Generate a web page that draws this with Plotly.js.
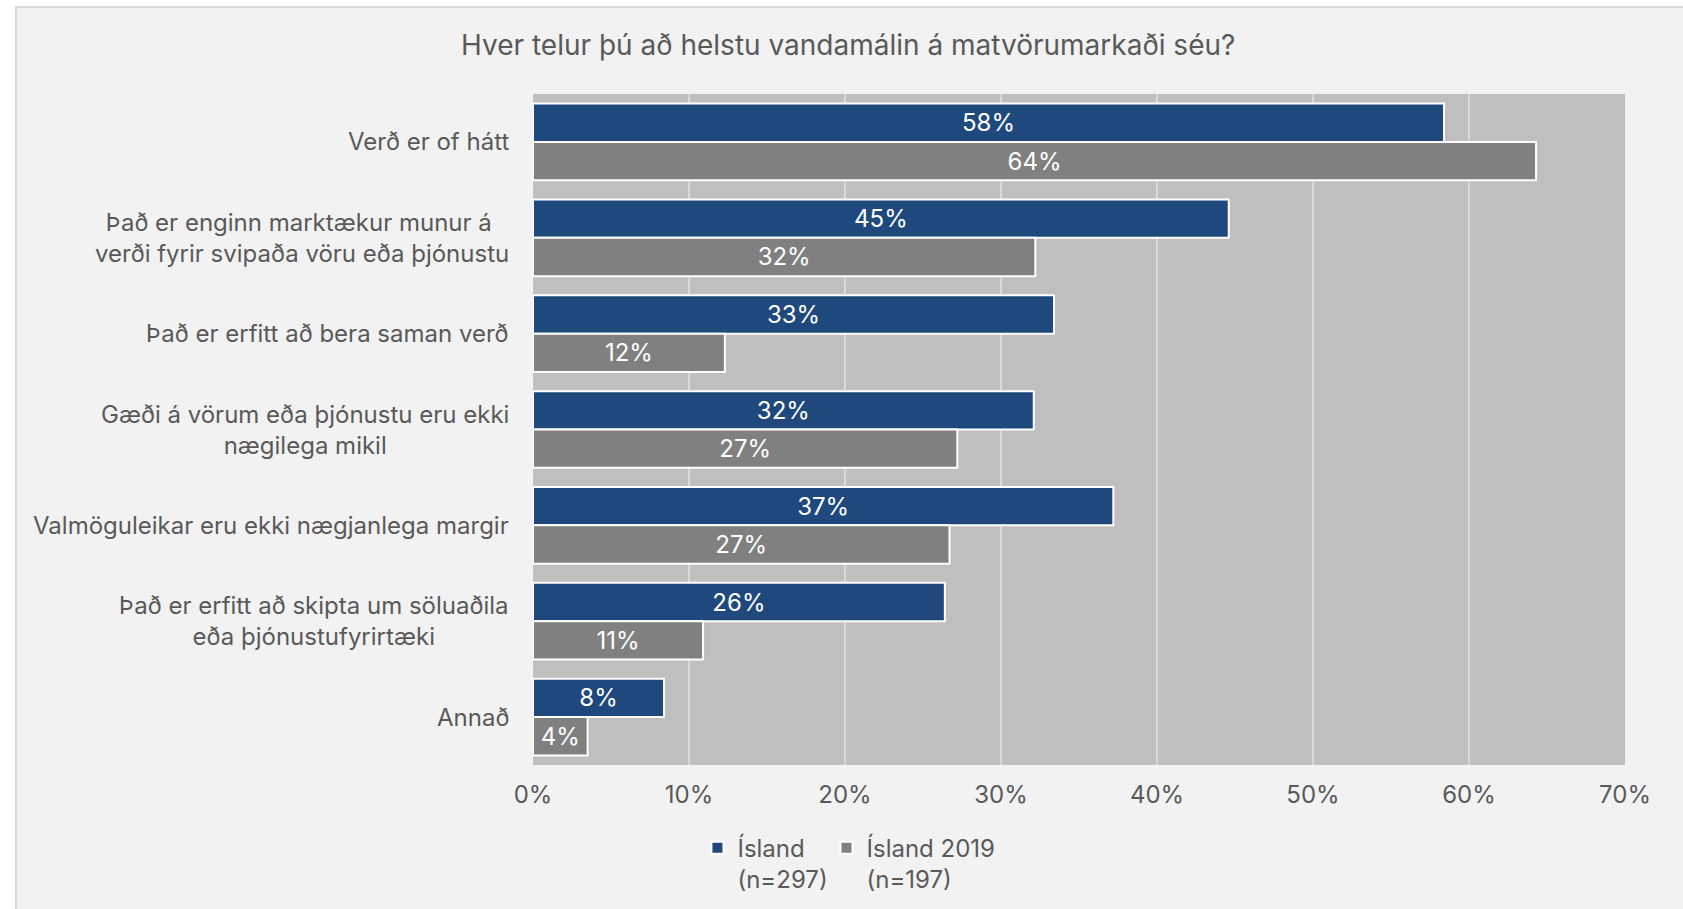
<!DOCTYPE html>
<html><head><meta charset="utf-8">
<script src="https://cdn.plot.ly/plotly-3.0.1.min.js"></script>
<style>
html,body{margin:0;padding:0;background:#fff;width:1683px;height:909px;overflow:hidden;}
#card{position:absolute;left:15px;top:6px;width:1720px;height:940px;background:#f2f2f2;border:2px solid #d9d9d9;box-sizing:border-box;}
#chart{position:absolute;left:0;top:0;width:1683px;height:909px;}
</style></head><body>
<div id="card"></div><div id="chart"></div>
<script>
const categories = [
  "Verð er of hátt",
  "Það er enginn marktækur munur á verði fyrir svipaða vöru eða þjónustu",
  "Það er erfitt að bera saman verð",
  "Gæði á vörum eða þjónustu eru ekki nægilega mikil",
  "Valmöguleikar eru ekki nægjanlega margir",
  "Það er erfitt að skipta um söluaðila eða þjónustufyrirtæki",
  "Annað"
];
const categoryLabels = [
  "Verð er of hátt",
  "Það er enginn marktækur munur á <br>verði fyrir svipaða vöru eða þjónustu",
  "Það er erfitt að bera saman verð",
  "Gæði á vörum eða þjónustu eru ekki<br>nægilega mikil",
  "Valmöguleikar eru ekki nægjanlega margir",
  "Það er erfitt að skipta um söluaðila<br>eða þjónustufyrirtæki",
  "Annað"
];
const island = [58.4, 44.6, 33.4, 32.1, 37.2, 26.4, 8.4];
const island2019 = [64.3, 32.2, 12.3, 27.2, 26.7, 10.9, 3.5];
const seriesNames = ["Ísland<br>(n=297)", "Ísland 2019<br>(n=197)"];
const seriesColors = ["#1f497d", "#808080"];
const xTickVals = [0, 10, 20, 30, 40, 50, 60, 70];
const xTickText = ["0%", "10%", "20%", "30%", "40%", "50%", "60%", "70%"];
const chartTitle = "Hver telur þú að helstu vandamálin á matvörumarkaði séu?";

const FONT = "Inter, 'Noto Sans', sans-serif";
const TXT = "#595959";
const legendIds = ["legend", "legend2"];

function barTrace(vals, i) {
  return {
    type: "bar", orientation: "h",
    x: vals, y: categories,
    name: seriesNames[i],
    legend: legendIds[i],
    marker: {color: seriesColors[i], line: {color: "#ffffff", width: 2}},
    texttemplate: "%{x:.0f}%",
    textposition: "inside",
    insidetextanchor: "middle",
    textangle: 0,
    textfont: {color: "#ffffff", size: 24, family: FONT},
    hoverinfo: "x+y+name"
  };
}

const data = [barTrace(island, 0), barTrace(island2019, 1)];

const annotations = categories.map((c, i) => ({
  xref: "paper", yref: "y", x: 0, y: c,
  xanchor: "right", yanchor: "middle", xshift: -22,
  text: categoryLabels[i], align: "center", showarrow: false,
  font: {size: 24, color: TXT, family: FONT}
}));

function legendAt(x) {
  return {orientation: "h", xref: "container", yref: "container",
          x: x, xanchor: "left", y: 0.05, yanchor: "middle",
          valign: "top", traceorder: "normal",
          font: {size: 24, color: TXT, family: FONT}, bgcolor: "rgba(0,0,0,0)"};
}

const layout = {
  width: 1683, height: 909,
  paper_bgcolor: "rgba(0,0,0,0)",
  plot_bgcolor: "#bfbfbf",
  margin: {l: 533, r: 58, t: 94, b: 144},
  title: {text: chartTitle, x: 0.504, xanchor: "center", y: 0.95, yanchor: "middle",
          font: {size: 28, color: TXT, family: FONT}},
  barmode: "group", bargap: 0.2, bargroupgap: 0,
  xaxis: {range: [0, 70], tickvals: xTickVals, ticktext: xTickText,
          showgrid: true, gridcolor: "#d9d9d9", gridwidth: 2, zeroline: false,
          showline: false, ticks: "", ticklabelstandoff: 13,
          tickfont: {size: 24, color: TXT, family: FONT}},
  yaxis: {autorange: "reversed", showticklabels: false, showgrid: false,
          zeroline: false, showline: false, ticks: ""},
  showlegend: true,
  legend: legendAt(0.4144),
  legend2: legendAt(0.4911),
  annotations: annotations,
  font: {family: FONT, color: TXT}
};

Plotly.newPlot("chart", data, layout, {displayModeBar: false, responsive: false});
</script>
</body></html>
